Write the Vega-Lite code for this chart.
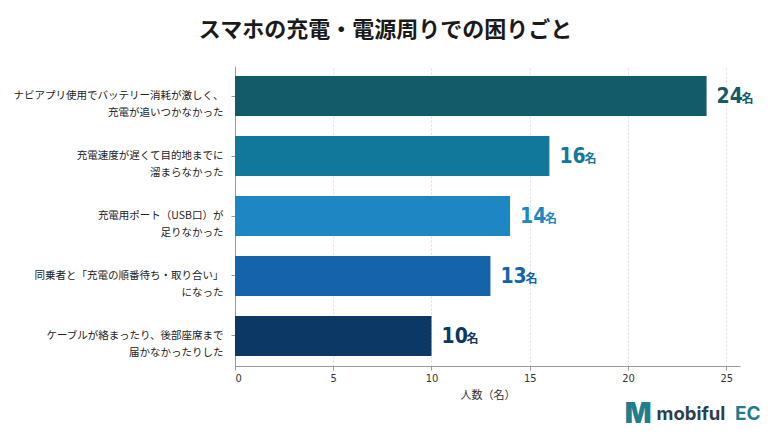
{
  "$schema": "https://vega.github.io/schema/vega-lite/v6.json",
  "width": 505,
  "height": 300,
  "autosize": {"type": "none"},
  "padding": {"left": 235, "top": 66, "right": 30, "bottom": 67},
  "background": "white",
  "title": {
    "text": "スマホの充電・電源周りでの困りごと",
    "font": "Noto Sans CJK JP",
    "fontSize": 22,
    "fontWeight": "bold",
    "color": "#1a1a1a",
    "anchor": "middle",
    "frame": "group",
    "dx": -102,
    "offset": 24
  },
  "config": {
    "view": {"stroke": null},
    "font": "Noto Sans CJK JP"
  },
  "data": {
    "values": [
      {"item": "ナビアプリ使用でバッテリー消耗が激しく、|充電が追いつかなかった", "count": 24},
      {"item": "充電速度が遅くて目的地までに|溜まらなかった", "count": 16},
      {"item": "充電用ポート（USB口）が|足りなかった", "count": 14},
      {"item": "同乗者と「充電の順番待ち・取り合い」|になった", "count": 13},
      {"item": "ケーブルが絡まったり、後部座席まで|届かなかったりした", "count": 10}
    ]
  },
  "encoding": {
    "y": {
      "field": "item",
      "type": "nominal",
      "sort": null,
      "scale": {"paddingInner": 0.333, "paddingOuter": 0.167},
      "axis": {
        "title": null,
        "labelExpr": "split(datum.label, '|')",
        "labelFontSize": 10.5,
        "labelColor": "#222222",
        "labelLineHeight": 17,
        "labelPadding": 8,
        "labelLimit": 300,
        "tickSize": 4,
        "tickColor": "#999999",
        "domainColor": "#999999"
      }
    }
  },
  "layer": [
    {
      "mark": {"type": "bar"},
      "encoding": {
        "x": {
          "field": "count",
          "type": "quantitative",
          "scale": {"domain": [0, 25.7], "nice": false},
          "axis": {
            "title": "人数（名）",
            "titleFontSize": 11,
            "titleFontWeight": "normal",
            "titleColor": "#333333",
            "titlePadding": 6,
            "values": [0, 5, 10, 15, 20, 25],
            "labelFontSize": 11,
            "labelColor": "#333333",
            "labelFont": "DejaVu Sans Condensed",
            "tickSize": 4,
            "tickColor": "#999999",
            "domainColor": "#999999",
            "grid": true,
            "gridColor": "#dddddd",
            "gridDash": [2, 2]
          }
        },
        "color": {
          "field": "item",
          "type": "nominal",
          "sort": null,
          "scale": {"range": ["#135b69", "#12789b", "#1e87c3", "#1463ab", "#0c3866"]},
          "legend": null
        }
      }
    },
    {
      "mark": {"type": "text", "align": "left", "baseline": "middle", "dx": 10, "dy": 1, "fontSize": 21, "fontWeight": "bold", "font": "DejaVu Sans Condensed"},
      "encoding": {
        "x": {"field": "count", "type": "quantitative", "axis": null},
        "text": {"field": "count", "type": "quantitative"},
        "color": {"field": "item", "type": "nominal", "sort": null, "legend": null}
      }
    },
    {
      "mark": {"type": "text", "align": "left", "baseline": "middle", "dx": 35, "dy": 3, "fontSize": 12, "fontWeight": "bold", "font": "Noto Sans CJK JP"},
      "encoding": {
        "x": {"field": "count", "type": "quantitative", "axis": null},
        "text": {"value": "名"},
        "color": {"field": "item", "type": "nominal", "sort": null, "legend": null}
      }
    },
    {
      "mark": {"type": "rule", "opacity": 0},
      "encoding": {
        "x": {
          "datum": 25.7,
          "type": "quantitative",
          "axis": {
            "orient": "bottom",
            "title": "M",
            "titleFont": "Inter",
            "titleFontSize": 28,
            "titleFontWeight": 900,
            "titleColor": "#1f7d8c",
            "titleAlign": "right",
            "titleBaseline": "alphabetic",
            "titleX": 416,
            "titleY": 56,
            "labels": false,
            "ticks": false,
            "domain": false,
            "grid": false
          }
        }
      }
    },
    {
      "mark": {"type": "rule", "opacity": 0},
      "encoding": {
        "x": {
          "datum": 25.7,
          "type": "quantitative",
          "axis": {
            "orient": "bottom",
            "title": "mobiful",
            "titleFont": "Inter",
            "titleFontSize": 18.5,
            "titleFontWeight": "bold",
            "titleColor": "#2b3f4c",
            "titleAlign": "left",
            "titleBaseline": "alphabetic",
            "titleX": 421,
            "titleY": 53,
            "labels": false,
            "ticks": false,
            "domain": false,
            "grid": false
          }
        }
      }
    },
    {
      "mark": {"type": "rule", "opacity": 0},
      "encoding": {
        "x": {
          "datum": 25.7,
          "type": "quantitative",
          "axis": {
            "orient": "bottom",
            "title": "EC",
            "titleFont": "Inter",
            "titleFontSize": 19,
            "titleFontWeight": "bold",
            "titleColor": "#1f7d8c",
            "titleAlign": "right",
            "titleBaseline": "alphabetic",
            "titleX": 525,
            "titleY": 53,
            "labels": false,
            "ticks": false,
            "domain": false,
            "grid": false
          }
        }
      }
    }
  ],
  "resolve": {"axis": {"x": "independent"}}
}
